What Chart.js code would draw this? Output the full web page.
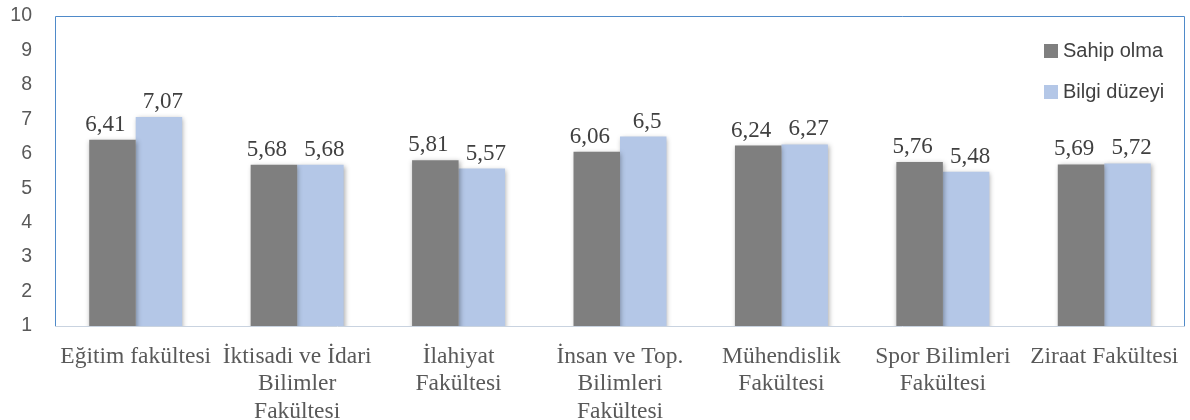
<!DOCTYPE html>
<html><head><meta charset="utf-8">
<script src="https://cdn.jsdelivr.net/npm/chart.js@4"></script>
<style>html,body{margin:0;padding:0;background:#fff}#wrap{width:1190px;height:420px}</style>
</head><body><div id="wrap"><canvas id="c" width="1190" height="420"></canvas></div>
<script>
const categories = [["Eğitim fakültesi"],["İktisadi ve İdari","Bilimler","Fakültesi"],["İlahiyat","Fakültesi"],["İnsan ve Top.","Bilimleri","Fakültesi"],["Mühendislik","Fakültesi"],["Spor Bilimleri","Fakültesi"],["Ziraat Fakültesi"]];
const seriesNames = ["Sahip olma","Bilgi düzeyi"];
const sahipOlma = [6.41,5.68,5.81,6.06,6.24,5.76,5.69];
const bilgiDuzeyi = [7.07,5.68,5.57,6.5,6.27,5.48,5.72];
const yTicks = [1,2,3,4,5,6,7,8,9,10];
const colors = ["#7f7f7f","#b4c7e7"];

const shadowPlugin = {
  id:'shadow',
  beforeDatasetsDraw(chart){const c=chart.ctx;c.save();c.shadowColor='rgba(0,0,0,0.35)';c.shadowBlur=5;c.shadowOffsetX=1;c.shadowOffsetY=1;},
  afterDatasetsDraw(chart){chart.ctx.restore();}
};
const labelShift = [-7, 4];
const framePlugin = {
  id:'frame',
  afterDraw(chart){
    const {ctx,chartArea:a}=chart;
    ctx.save();
    ctx.lineWidth=1;
    ctx.strokeStyle='#4f8ac9';
    ctx.beginPath();
    ctx.moveTo(a.left+0.5,a.bottom);ctx.lineTo(a.left+0.5,a.top+0.5);ctx.lineTo(a.right-0.5,a.top+0.5);ctx.lineTo(a.right-0.5,a.bottom);
    ctx.stroke();
    ctx.strokeStyle='#c9d3e0';
    ctx.beginPath();ctx.moveTo(a.left,a.bottom+0.5);ctx.lineTo(a.right,a.bottom+0.5);ctx.stroke();
    // data labels
    ctx.font='23px "Liberation Serif", serif';
    ctx.fillStyle='#404040';
    ctx.textAlign='center';ctx.textBaseline='alphabetic';
    chart.data.datasets.forEach((ds,i)=>{
      chart.getDatasetMeta(i).data.forEach((bar,j)=>{
        ctx.fillText(String(ds.data[j]).replace('.',','),bar.x+labelShift[i],bar.y-9);
      });
    });
    // legend
    ctx.font='20px "Liberation Sans", sans-serif';
    ctx.textAlign='left';ctx.textBaseline='middle';
    const lx=1044, ly=[51,92];
    chart.data.datasets.forEach((ds,i)=>{
      ctx.fillStyle=ds.backgroundColor;ctx.fillRect(lx,ly[i]-7,14,14);
      ctx.fillStyle='#404040';ctx.fillText(ds.label,lx+19,ly[i]);
    });
    ctx.restore();
  }
};

new Chart(document.getElementById('c'),{
  type:'bar',
  data:{labels:categories,datasets:[
    {label:seriesNames[0],data:sahipOlma,backgroundColor:colors[0]},
    {label:seriesNames[1],data:bilgiDuzeyi,backgroundColor:colors[1]}
  ]},
  options:{
    responsive:false,animation:false,
    layout:{padding:{top:16,right:5,left:0,bottom:0}},
    datasets:{bar:{categoryPercentage:0.576,barPercentage:1}},
    plugins:{legend:{display:false},tooltip:{enabled:false}},
    scales:{
      x:{grid:{display:false},border:{display:false},
        ticks:{color:'#595959',font:{family:'"Liberation Serif", serif',size:23.5,lineHeight:1.17},maxRotation:0,autoSkip:false,padding:9},
        afterFit(s){s.height=94;s.paddingLeft=0;s.paddingRight=0;}},
      y:{min:1,max:10,grid:{display:false},border:{display:false},
        afterBuildTicks(s){s.ticks=yTicks.map(v=>({value:v}));},
        ticks:{color:'#595959',font:{family:'"Liberation Sans", sans-serif',size:19.5},padding:15},
        afterFit(s){s.width=55;s.paddingTop=0;s.paddingBottom=0;}}
    }
  },
  plugins:[shadowPlugin,framePlugin]
});
</script></body></html>
